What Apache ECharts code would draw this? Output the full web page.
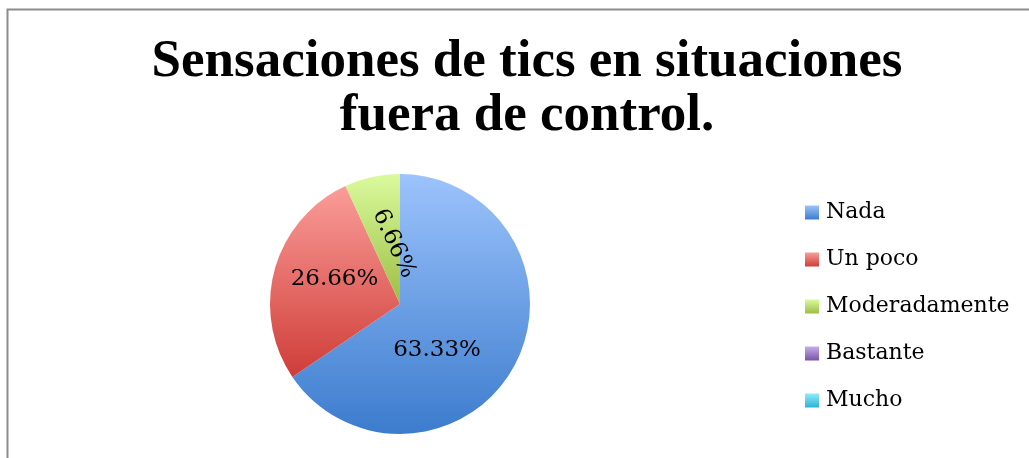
<!DOCTYPE html>
<html>
<head>
<meta charset="utf-8">
<script src="https://cdn.jsdelivr.net/npm/echarts@6/dist/echarts.min.js"></script>
<style>
  html, body { margin: 0; padding: 0; background: #fff; }
  #chart { width: 1029px; height: 458px; }
</style>
</head>
<body>
<div id="chart"></div>
<script>
var categories = ['Nada', 'Un poco', 'Moderadamente', 'Bastante', 'Mucho'];
var values = [63.33, 26.66, 6.66, 0, 0];

// top / bottom colours of each slice gradient
var topColors = ['#9cc3fc', '#fa9d99', '#dbfa9e', '#c7aeeb', '#90ecfb'];
var bottomColors = ['#3c7ccd', '#cf3d38', '#9cbe43', '#7853a6', '#2db2d1'];
// the rotated label's offset is in its own rotated frame
var labelOffsets = [[-23, 14], [0, -7], [9, -5], [0, 0], [0, 0]];
var labelRotate = [0, 0, -65, 0, 0];

var chart = echarts.init(document.getElementById('chart'));

function grad(i) {
    return new echarts.graphic.LinearGradient(0, 0, 0, 1, [
        { offset: 0, color: topColors[i] },
        { offset: 1, color: bottomColors[i] }
    ]);
}

var pieData = categories.map(function (name, i) {
    return {
        name: name,
        value: values[i],
        itemStyle: { color: grad(i) },
        label: { offset: labelOffsets[i], rotate: labelRotate[i] }
    };
});

var option = {
    backgroundColor: '#fff',
    animation: false,
    title: {
        text: 'Sensaciones de tics en situaciones\nfuera de control.',
        left: 522,
        top: 30,
        textAlign: 'center',
        textStyle: {
            fontFamily: 'Liberation Serif',
            fontWeight: 'bold',
            fontSize: 53,
            lineHeight: 54,
            color: '#000'
        }
    },
    legend: {
        orient: 'vertical',
        left: 805,
        top: 200,
        padding: 0,
        itemWidth: 14,
        itemHeight: 14,
        itemGap: 22,
        icon: 'rect',
        data: categories,
        textStyle: {
            fontFamily: 'DejaVu Serif',
            fontSize: 22,
            lineHeight: 25,
            color: '#000',
            padding: [0, 0, 0, 2]
        }
    },
    graphic: [{
        type: 'rect',
        shape: { x: 7.5, y: 9.5, width: 1100, height: 500 },
        style: { fill: 'none', stroke: '#8c8c8c', lineWidth: 2 },
        silent: true
    }],
    series: [{
        type: 'pie',
        center: [400, 304],
        radius: [0, 130],
        startAngle: 90,
        clockwise: true,
        stillShowZeroSum: true,
        data: pieData,
        itemStyle: { borderWidth: 0 },
        labelLine: { show: false },
        label: {
            show: true,
            position: 'inside',
            fontFamily: 'DejaVu Serif',
            fontSize: 23,
            color: '#000',
            formatter: function (p) {
                return p.value ? p.value.toFixed(2) + '%' : '';
            }
        },
        emphasis: { disabled: true }
    }]
};
chart.setOption(option);
</script>
</body>
</html>
